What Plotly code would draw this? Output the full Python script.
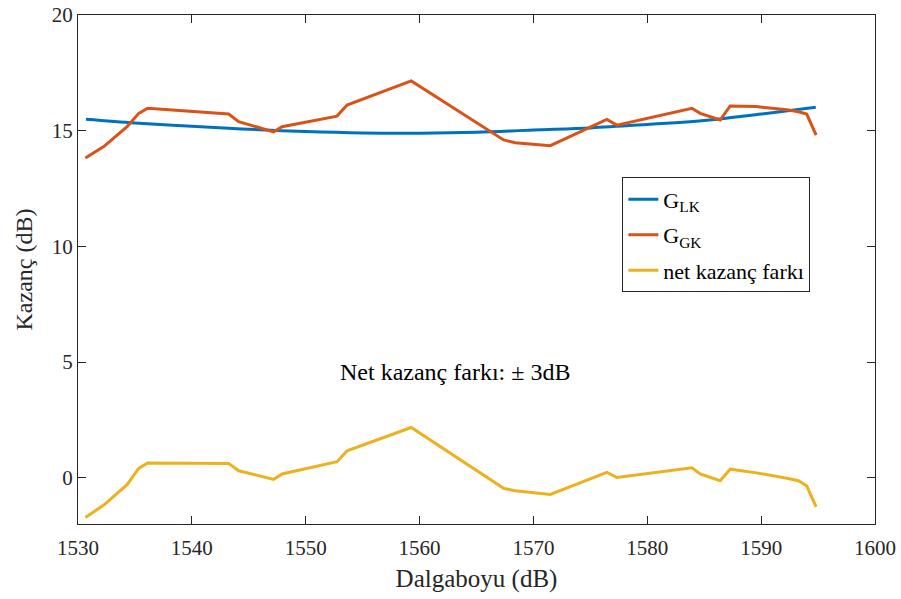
import plotly.graph_objects as go

# G_LK (smooth curve)
x_lk = [1530.7, 1535, 1540, 1545, 1550, 1555, 1560, 1565, 1570, 1575, 1580, 1585, 1590, 1594.8]
g_lk = [15.49, 15.33, 15.19, 15.06, 14.96, 14.9, 14.89, 14.93, 15.03, 15.12, 15.27, 15.44, 15.72, 16.01]

# G_GK and net gain difference share wavelength points
x_pts = [1530.65, 1532.26, 1534.31, 1535.33, 1536.12, 1543.23, 1544.11, 1547.18, 1547.92,
         1552.75, 1553.63, 1559.27, 1567.38, 1568.4, 1571.48, 1576.45, 1577.33, 1583.92,
         1584.65, 1586.4, 1587.28, 1589.6, 1592.26, 1593.27, 1594.0, 1594.83]
g_gk = [13.82, 14.31, 15.17, 15.75, 15.97, 15.72, 15.39, 14.95, 15.17,
        15.63, 16.11, 17.15, 14.6, 14.48, 14.35, 15.49, 15.24, 15.97,
        15.75, 15.46, 16.07, 16.04, 15.9, 15.82, 15.72, 14.81]
net = [-1.72, -1.18, -0.3, 0.4, 0.64, 0.62, 0.30, -0.07, 0.16,
       0.69, 1.16, 2.17, -0.46, -0.56, -0.72, 0.23, 0.01, 0.43,
       0.16, -0.13, 0.37, 0.21, -0.02, -0.13, -0.35, -1.26]

x_ticks = [1530, 1540, 1550, 1560, 1570, 1580, 1590, 1600]
y_ticks = [0, 5, 10, 15, 20]

FONT = "Liberation Serif, Times New Roman, serif"
AX = "#262626"

fig = go.Figure()
fig.add_trace(go.Scatter(x=x_lk, y=g_lk, mode="lines", name="G<sub>LK</sub>", legendgroup="a",
                         line=dict(color="#0072BD", width=3, shape="spline")))
fig.add_trace(go.Scatter(x=x_pts, y=g_gk, mode="lines", name="G<sub>GK</sub>", legendgroup="b",
                         line=dict(color="#D95319", width=3)))
fig.add_trace(go.Scatter(x=x_pts, y=net, mode="lines", name="net kazanç farkı", legendgroup="c",
                         line=dict(color="#EDB120", width=3)))

fig.add_annotation(x=1563.1, y=4.57, text="Net kazanç farkı: ± 3dB", showarrow=False,
                   font=dict(family=FONT, size=24, color="black"))

axis_common = dict(showgrid=False, zeroline=False, showline=True, linecolor=AX, linewidth=1,
                   mirror="ticks", ticks="inside", ticklen=8, tickcolor=AX, automargin=False,
                   tickfont=dict(family=FONT, size=21, color=AX))
fig.update_xaxes(range=[1530, 1600], tickvals=x_ticks, ticklabelstandoff=5,
                 title=dict(text="Dalgaboyu (dB)", font=dict(family=FONT, size=25, color=AX), standoff=10),
                 **axis_common)
fig.update_yaxes(range=[-2, 20], tickvals=y_ticks,
                 title=dict(text="Kazanç (dB)", font=dict(family=FONT, size=24, color=AX), standoff=12),
                 **axis_common)

fig.update_layout(
    width=901, height=599,
    margin=dict(l=78, r=26, t=15, b=75),
    plot_bgcolor="white", paper_bgcolor="white",
    font=dict(family=FONT, color="black"),
    legend=dict(x=0.683, y=0.681, xanchor="left", yanchor="top",
                bordercolor=AX, borderwidth=1, bgcolor="white",
                font=dict(family=FONT, size=22, color="black"),
                traceorder="grouped", tracegroupgap=4),
    showlegend=True,
)

fig.write_html("out.html")
